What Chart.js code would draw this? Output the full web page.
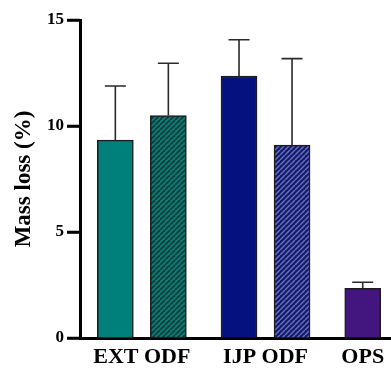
<!DOCTYPE html>
<html>
<head>
<meta charset="utf-8">
<script src="https://cdn.jsdelivr.net/npm/chart.js@4.4.1/dist/chart.umd.min.js"></script>
<style>
  html, body { margin: 0; padding: 0; background: #fff; }
  #wrap { width: 391px; height: 372px; position: relative; }
</style>
</head>
<body>
<div id="wrap"><canvas id="c"></canvas></div>
<script>
// Formulation groups shown on the x axis
const groups = ['EXT ODF', 'IJP ODF', 'OPS'];
// Which group each bar belongs to
const barGroup = [0, 0, 1, 1, 2];
// Mean mass loss (%) per bar
const meanLoss = [9.33, 10.49, 12.36, 9.10, 2.34];
// Standard deviation (%) per bar, drawn as upward error bars
const sdLoss = [2.56, 2.47, 1.71, 4.08, 0.29];
// Y axis tick values
const yTicks = [0, 5, 10, 15];

// Bar x positions: bars inside a group are 3 units apart, groups 4 units apart
const xPos = [];
const groupCenters = [];
{
  let x = 0;
  groups.forEach((g, gi) => {
    const members = barGroup.map((bg, i) => bg === gi ? i : -1).filter(i => i >= 0);
    const start = x;
    members.forEach((i, k) => { xPos[i] = x; if (k < members.length - 1) x += 3; });
    groupCenters.push((start + x) / 2);
    x += 4;
  });
}

function stripes(base, line, width) {
  const s = 5;
  const cv = document.createElement('canvas');
  cv.width = s; cv.height = s;
  const g = cv.getContext('2d');
  g.fillStyle = base;
  g.fillRect(0, 0, s, s);
  g.strokeStyle = line;
  g.lineWidth = width;
  for (let k = -1; k <= 1; k++) {
    g.beginPath();
    g.moveTo(k * s, s);
    g.lineTo(k * s + s, 0);
    g.stroke();
  }
  return document.createElement('canvas').getContext('2d').createPattern(cv, 'repeat');
}

const fills = [
  '#00807a',
  stripes('#0a7d76', '#103d3b', 1.8),
  '#05117f',
  stripes('#0f1a7b', '#6d73a2', 1.4),
  '#42157f'
];

// Upward error bars, then the outward y-axis tick marks on top
const errorBars = {
  id: 'errorBars',
  afterDatasetsDraw(chart) {
    const meta = chart.getDatasetMeta(0);
    const ys = chart.scales.y;
    const ctx = chart.ctx;
    ctx.save();
    ctx.strokeStyle = '#2a2a2a';
    ctx.lineWidth = 1.6;
    meta.data.forEach((el, i) => {
      const top = ys.getPixelForValue(meanLoss[i] + sdLoss[i]);
      const half = 10.5;
      ctx.beginPath();
      ctx.moveTo(el.x, el.y);
      ctx.lineTo(el.x, top);
      ctx.moveTo(el.x - half, top);
      ctx.lineTo(el.x + half, top);
      ctx.stroke();
    });
    ctx.restore();
  },
  afterDraw(chart) {
    const ys = chart.scales.y;
    const left = chart.chartArea.left;
    const ctx = chart.ctx;
    ctx.save();
    ctx.strokeStyle = '#000';
    ctx.lineWidth = 2.5;
    yTicks.forEach(v => {
      const py = ys.getPixelForValue(v);
      ctx.beginPath();
      ctx.moveTo(left - 13, py);
      ctx.lineTo(left, py);
      ctx.stroke();
    });
    ctx.restore();
  }
};

const serif = "'Liberation Serif', 'Times New Roman', serif";

new Chart(document.getElementById('c'), {
  type: 'bar',
  data: {
    datasets: [{
      data: meanLoss.map((v, i) => ({ x: xPos[i], y: v })),
      backgroundColor: fills,
      borderColor: '#1c1c1c',
      borderWidth: 1.5,
      barThickness: 36
    }]
  },
  options: {
    responsive: true,
    maintainAspectRatio: false,
    animation: false,
    layout: { padding: { top: 20, right: 0, left: 0, bottom: 0 } },
    plugins: { legend: { display: false }, tooltip: { enabled: false } },
    scales: {
      x: {
        type: 'linear',
        offset: false,
        bounds: 'ticks',
        min: -2,
        max: 15.6,
        afterBuildTicks: (scale) => { scale.ticks = groupCenters.map(v => ({ value: v })); },
        afterFit: (scale) => { scale.height = 34; },
        grid: { display: false },
        border: { display: true, color: '#000', width: 3 },
        ticks: {
          autoSkip: false,
          maxRotation: 0,
          padding: -2,
          color: '#000',
          font: { family: serif, size: 22, weight: 'bold' },
          callback: (v, i) => groups[i]
        }
      },
      y: {
        min: 0,
        max: 15,
        afterBuildTicks: (scale) => { scale.ticks = yTicks.map(v => ({ value: v })); },
        afterFit: (scale) => { scale.width = 80; },
        grid: { display: true, drawOnChartArea: false, drawTicks: true, tickLength: 13, tickWidth: 2.5, color: '#000' },
        border: { display: true, color: '#000', width: 3 },
        ticks: {
          padding: 3,
          color: '#000',
          font: { family: serif, size: 17, weight: 'bold' }
        },
        title: {
          display: true,
          text: 'Mass loss (%)',
          color: '#000',
          padding: { top: 10, bottom: 4 },
          font: { family: serif, size: 23, weight: 'bold' }
        }
      }
    }
  },
  plugins: [errorBars]
});
</script>
</body>
</html>
